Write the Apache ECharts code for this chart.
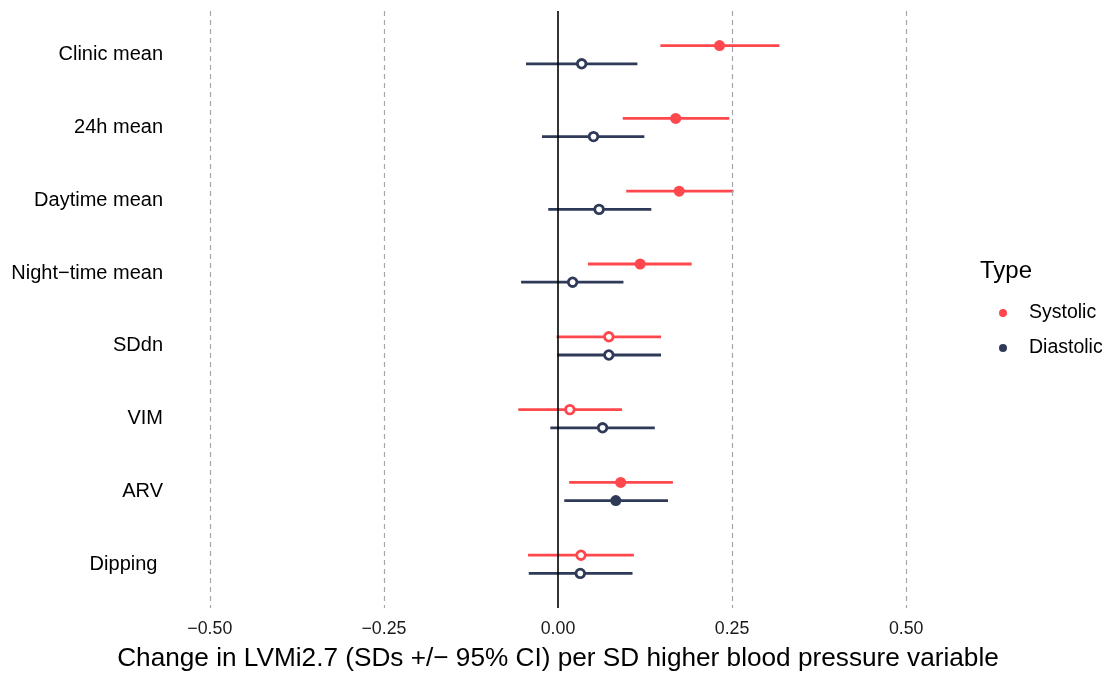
<!DOCTYPE html>
<html>
<head>
<meta charset="utf-8">
<script src="https://cdn.jsdelivr.net/npm/echarts@6/dist/echarts.min.js"></script>
<style>
html,body{margin:0;padding:0;background:#fff;}
#chart{width:1108px;height:673px;}
</style>
</head>
<body>
<div id="chart"></div>
<script>
// ---- data ----
var categories = ['Clinic mean', '24h mean', 'Daytime mean', 'Night\u2212time mean', 'SDdn', 'VIM', 'ARV', 'Dipping '];
var systolicEst = [0.232, 0.169, 0.174, 0.118, 0.073, 0.017, 0.090, 0.033];
var systolicLo  = [0.147, 0.093, 0.098, 0.043, -0.002, -0.057, 0.016, -0.043];
var systolicHi  = [0.318, 0.246, 0.252, 0.192, 0.148, 0.092, 0.165, 0.109];
var diastolicEst = [0.034, 0.051, 0.059, 0.021, 0.073, 0.064, 0.083, 0.032];
var diastolicLo  = [-0.046, -0.023, -0.014, -0.053, -0.001, -0.011, 0.009, -0.042];
var diastolicHi  = [0.114, 0.124, 0.134, 0.094, 0.148, 0.139, 0.158, 0.107];
var xTicks = [-0.5, -0.25, 0, 0.25, 0.5];
var seriesNames = ['Systolic', 'Diastolic'];

var colors = {Systolic: '#FF484D', Diastolic: '#2F3A58'};
var dodge = 0.125;

function buildBars(lo, hi, off) {
  return categories.map(function (c, i) { return [lo[i], hi[i], i + off]; });
}
function buildPoints(est, lo, hi, off, col) {
  return categories.map(function (c, i) {
    var sig = lo[i] > 0 || hi[i] < 0;
    return {
      value: [est[i], i + off],
      symbolSize: sig ? 11 : 8.6,
      itemStyle: sig ? {color: col, borderWidth: 0, opacity: 1}
                     : {color: '#ffffff', borderColor: col, borderWidth: 2.8, opacity: 1}
    };
  });
}
function barRender(col) {
  return function (params, api) {
    var a = api.coord([api.value(0), api.value(2)]);
    var b = api.coord([api.value(1), api.value(2)]);
    return {type: 'line', shape: {x1: a[0], y1: a[1], x2: b[0], y2: b[1]},
            style: {stroke: col, lineWidth: 2.8}};
  };
}
function fmt(v) {
  var s = Math.abs(v).toFixed(2);
  return (v < 0 ? '\u2212' : '') + s;
}

var font = 'Liberation Sans, Arial, Helvetica, sans-serif';
var chart = echarts.init(document.getElementById('chart'));
chart.setOption({
  backgroundColor: '#ffffff',
  animation: false,
  textStyle: {fontFamily: font},
  grid: {left: 175, right: 167, top: 11, bottom: 65, outerBoundsMode: 'none', containLabel: false},
  title: {text: 'Type', left: 980, top: 259, padding: 0,
          textStyle: {fontFamily: font, fontSize: 24, fontWeight: 'normal', color: '#000'}},
  legend: {
    data: seriesNames, orient: 'vertical', left: 994, top: 298,
    icon: 'circle', itemWidth: 8, itemHeight: 8, itemGap: 15,
    itemStyle: {opacity: 1},
    textStyle: {fontFamily: font, fontSize: 19.5, color: '#000', padding: [0, 0, 0, 17]},
    selectedMode: false
  },
  xAxis: {
    type: 'value', min: -0.55, max: 0.55,
    name: 'Change in LVMi2.7 (SDs +/\u2212 95% CI) per SD higher blood pressure variable',
    nameLocation: 'middle', nameGap: 38,
    nameTextStyle: {fontFamily: font, fontSize: 26.2, color: '#000'},
    axisLine: {show: false}, axisTick: {show: false}, splitLine: {show: false},
    axisLabel: {customValues: xTicks, formatter: fmt, fontSize: 17.8, color: '#1a1a1a', margin: 12, fontFamily: font}
  },
  yAxis: {
    type: 'value', min: -0.6, max: 7.6, inverse: true,
    axisLine: {show: false}, axisTick: {show: false}, splitLine: {show: false},
    axisLabel: {customValues: [0, 1, 2, 3, 4, 5, 6, 7],
                formatter: function (v) { return categories[Math.round(v)]; },
                fontSize: 20, color: '#000', margin: 12, fontFamily: font,
                padding: [3, 0, 0, 0]}
  },
  series: [
    {
      type: 'custom', name: 'sysBars', renderItem: barRender(colors.Systolic),
      data: buildBars(systolicLo, systolicHi, -dodge), z: 3, silent: true,
      encode: {x: [0, 1], y: 2},
      markLine: {
        silent: true, symbol: 'none', label: {show: false},
        data: xTicks.filter(function (t) { return t !== 0; }).map(function (t) {
          return {xAxis: t, lineStyle: {color: '#A6A6A6', width: 1.2, type: [5, 4]}};
        }).concat([{xAxis: 0, lineStyle: {color: '#000', width: 1.6, type: 'solid'}}])
      }
    },
    {
      type: 'custom', name: 'diaBars', renderItem: barRender(colors.Diastolic),
      data: buildBars(diastolicLo, diastolicHi, dodge), z: 3, silent: true,
      encode: {x: [0, 1], y: 2}
    },
    {
      type: 'scatter', name: 'Systolic', z: 5,
      itemStyle: {color: colors.Systolic, opacity: 1},
      data: buildPoints(systolicEst, systolicLo, systolicHi, -dodge, colors.Systolic)
    },
    {
      type: 'scatter', name: 'Diastolic', z: 5,
      itemStyle: {color: colors.Diastolic, opacity: 1},
      data: buildPoints(diastolicEst, diastolicLo, diastolicHi, dodge, colors.Diastolic)
    }
  ]
});
</script>
</body>
</html>
